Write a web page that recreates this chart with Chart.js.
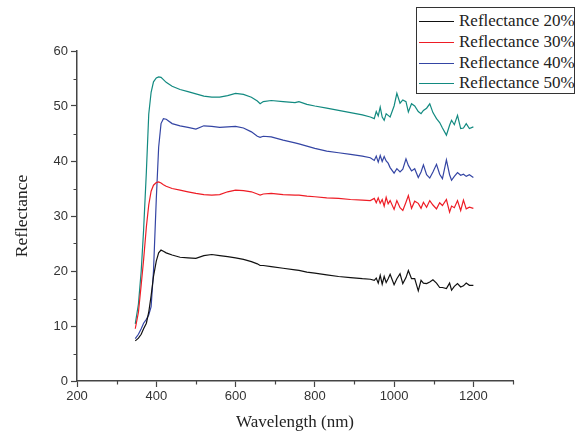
<!DOCTYPE html>
<html>
<head>
<meta charset="utf-8">
<script src="https://cdn.jsdelivr.net/npm/chart.js@4"></script>
<style>
  html, body { margin: 0; padding: 0; background: #fff; }
  #wrap { position: relative; width: 579px; height: 435px; }
  #legend {
    position: absolute; left: 416px; top: 7px; width: 159px; height: 87px;
    border: 1.5px solid #333; background: #fff; box-sizing: border-box;
    font-family: "Liberation Serif", "Times New Roman", serif; font-size: 17px; color: #222;
  }
  .row { position: absolute; left: 0; height: 20px; line-height: 20px; white-space: nowrap; }
  .swatch { position: absolute; left: 2px; top: 10px; width: 35px; height: 0; border-top: 1.5px solid; }
  .lbl { position: absolute; left: 42px; top: 0; }
</style>
</head>
<body>
<div id="wrap">
  <canvas id="chart" width="579" height="435"></canvas>
  <div id="legend"></div>
</div>
<script>
// wavelength grid (nm), shared by all four curves
const wavelength = [
  347, 355, 362, 368, 375, 381, 387, 393, 400, 406, 412, 418, 425, 440, 460, 480,
  500, 520, 540, 560, 580, 600, 620, 640, 655, 662, 670, 690, 720, 750, 760, 780,
  800, 830, 860, 890, 920, 940, 950, 955, 960, 965, 970, 975, 980, 985, 990, 1000,
  1007, 1015, 1022, 1030, 1036, 1044, 1052, 1061, 1068, 1074, 1082, 1090, 1098, 1107,
  1115, 1122, 1132, 1140, 1145, 1152, 1160, 1168, 1175, 1182, 1190, 1200
];

const refl20 = [
  7.3, 7.8, 8.5, 9.5, 10.5, 12.5, 15.5, 19.0, 21.8, 23.3, 23.8, 23.6, 23.3, 22.9, 22.5, 22.4,
  22.3, 22.8, 23.0, 22.8, 22.6, 22.4, 22.1, 21.7, 21.3, 21.0, 21.0, 20.8, 20.5, 20.2, 20.1, 19.8,
  19.6, 19.3, 19.0, 18.8, 18.6, 18.5, 18.3, 18.7, 17.8, 19.2, 17.6, 19.0, 17.9, 18.6, 19.4, 17.5,
  18.6, 19.5, 17.7, 18.8, 20.1, 18.6, 18.6, 16.4, 18.3, 17.8, 17.7, 18.0, 18.4, 17.8,
  17.0, 17.0, 16.8, 17.8, 16.5, 17.2, 17.7, 17.1, 17.3, 17.8, 17.4, 17.4
];

const refl30 = [
  9.5, 12.5, 17.5, 22.0, 28.0, 32.0, 34.5, 35.6, 36.1, 36.2, 36.0, 35.7, 35.4, 35.0, 34.7, 34.4,
  34.1, 33.9, 33.8, 33.9, 34.4, 34.7, 34.6, 34.4, 34.0, 33.8, 34.0, 34.1, 33.9, 33.8, 33.8, 33.6,
  33.5, 33.3, 33.2, 33.0, 32.9, 32.8, 33.2, 32.4, 33.3, 32.3, 33.0, 31.8, 33.4, 32.2, 32.8, 31.2,
  32.8, 31.5, 31.0, 32.5, 33.7, 31.4, 32.7, 32.3, 31.4, 32.5, 31.6, 32.8, 32.0, 31.3,
  32.4, 31.9, 33.0, 30.7, 31.8, 31.5, 32.8, 31.0, 32.9, 31.3, 31.6, 31.4
];

const refl40 = [
  7.7, 8.5, 9.5, 10.5, 11.2, 12.0, 13.5, 20.0, 33.0, 42.5, 46.8, 47.7, 47.6, 46.8, 46.4, 46.1,
  45.8, 46.4, 46.3, 46.1, 46.2, 46.3, 46.0, 45.3, 44.5, 44.3, 44.5, 44.4, 43.8, 43.3, 43.1, 42.7,
  42.3, 41.8, 41.5, 41.2, 40.9, 40.6, 40.1, 40.9, 39.8, 41.0, 39.9, 40.8, 40.0, 39.6, 38.8, 37.8,
  38.6, 38.0, 38.5, 40.4, 39.2, 38.2, 38.6, 37.0, 38.0, 39.3, 37.5, 36.9, 38.0, 39.4,
  37.6, 36.8, 40.2, 37.5, 36.5, 37.2, 37.9, 37.4, 37.6, 37.2, 37.5, 37.0
];

const refl50 = [
  10.4, 14.0, 20.0, 27.4, 38.0, 48.5, 52.5, 54.4, 55.1, 55.3, 55.2, 54.8, 54.3, 53.6, 53.0, 52.6,
  52.2, 51.8, 51.6, 51.6, 51.9, 52.3, 52.1, 51.6, 50.9, 50.4, 50.8, 51.0, 50.8, 50.6, 50.8, 50.3,
  50.0, 49.6, 49.2, 48.8, 48.4, 48.0, 47.7, 49.0, 48.2, 49.8, 48.0, 47.4, 48.6, 48.3, 48.0, 50.0,
  52.3, 50.5, 51.1, 50.8, 48.9, 50.4, 50.0, 49.0, 48.6, 49.2, 49.6, 50.4, 48.8, 47.7,
  47.0, 46.0, 44.7, 46.5, 47.4, 46.6, 48.3, 45.9, 46.0, 46.8, 45.9, 46.2
];

const seriesNames = ["Reflectance 20%", "Reflectance 30%", "Reflectance 40%", "Reflectance 50%"];
const seriesColors = ["#111111", "#ee1c25", "#3445a4", "#128a80"];
const seriesValues = [refl20, refl30, refl40, refl50];

const xTicksShown = [200, 400, 600, 800, 1000, 1200];
const xMinorTicks = [300, 500, 700, 900, 1100, 1300];
const yTicksShown = [0, 10, 20, 30, 40, 50, 60];
const yMinorTicks = [5, 15, 25, 35, 45, 55];

const datasets = seriesNames.map((name, i) => ({
  label: name,
  data: wavelength.map((w, j) => ({ x: w, y: seriesValues[i][j] })),
  borderColor: seriesColors[i],
  borderWidth: 1.2,
  pointRadius: 0,
  tension: 0,
  fill: false,
}));

// simple html legend, boxed like the original
const legend = document.getElementById("legend");
seriesNames.forEach((name, i) => {
  const row = document.createElement("div");
  row.className = "row";
  row.style.top = (3 + i * 20.8) + "px";
  row.innerHTML =
    `<span class="swatch" style="border-color:${seriesColors[i]}"></span>` +
    `<span class="lbl">${name}</span>`;
  legend.appendChild(row);
});

// short minor ticks, placed through the chart's own scales
const minorTicks = {
  id: "minorTicks",
  afterDraw(chart) {
    const { ctx, scales } = chart;
    const xs = scales.x, ys = scales.y;
    ctx.save();
    ctx.strokeStyle = "#444";
    ctx.lineWidth = 1.2;
    ctx.beginPath();
    xMinorTicks.forEach((v) => {
      const px = Math.round(xs.getPixelForValue(v)) + 0.5;
      ctx.moveTo(px, xs.top);
      ctx.lineTo(px, xs.top + 3.5);
    });
    yMinorTicks.forEach((v) => {
      const py = Math.round(ys.getPixelForValue(v)) + 0.5;
      ctx.moveTo(ys.right, py);
      ctx.lineTo(ys.right - 3.5, py);
    });
    ctx.stroke();
    ctx.restore();
  },
};

const tickFont = { family: "'Liberation Sans', Arial, sans-serif", size: 13 };
const titleFont = { family: "'Liberation Serif', 'Times New Roman', serif", size: 17 };

new Chart(document.getElementById("chart"), {
  type: "line",
  data: { datasets: datasets },
  plugins: [minorTicks],
  options: {
    responsive: false,
    animation: false,
    layout: { padding: { left: 0, right: 66, top: 51, bottom: 0 } },
    plugins: { legend: { display: false }, tooltip: { enabled: false } },
    scales: {
      x: {
        type: "linear",
        min: 200,
        max: 1300,
        afterFit: (s) => { s.height = 54; },
        border: { display: true, color: "#444", width: 1.5 },
        grid: {
          drawOnChartArea: false,
          drawTicks: true,
          tickLength: 6,
          tickWidth: 1.2,
          color: (c) => (c.tick && xTicksShown.includes(c.tick.value) ? "#444" : "rgba(0,0,0,0)"),
        },
        ticks: {
          stepSize: 100,
          padding: 2,
          color: "#333",
          font: tickFont,
          maxRotation: 0,
          autoSkip: false,
          callback: (v) => (xTicksShown.includes(v) ? String(v) : ""),
        },
        title: {
          display: true,
          text: "Wavelength (nm)",
          color: "#222",
          font: titleFont,
          padding: { top: 0, bottom: 2 },
        },
      },
      y: {
        min: 0,
        max: 60,
        afterFit: (s) => { s.width = 77; },
        border: { display: true, color: "#444", width: 1.5 },
        grid: { drawOnChartArea: false, drawTicks: true, tickLength: 6, color: "#444", tickWidth: 1.2 },
        ticks: {
          stepSize: 10,
          padding: 3,
          color: "#333",
          font: tickFont,
          autoSkip: false,
          callback: (v) => (yTicksShown.includes(v) ? String(v) : ""),
        },
        title: {
          display: true,
          text: "Reflectance",
          color: "#222",
          font: { family: titleFont.family, size: 17.5 },
          padding: { top: 12, bottom: 0 },
        },
      },
    },
  },
});
</script>
</body>
</html>
